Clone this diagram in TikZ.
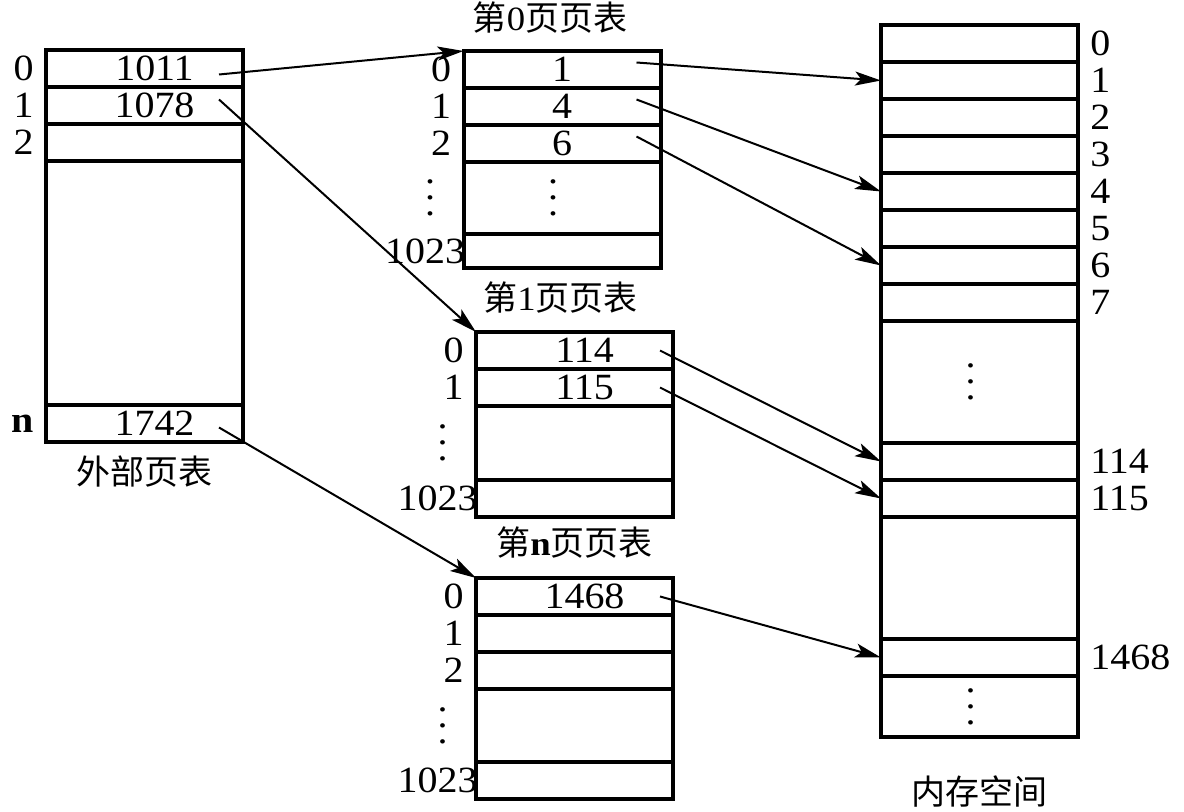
\documentclass[tikz,border=0pt]{standalone}
\usepackage{fontspec}
\setmainfont{Liberation Serif}[FakeStretch=1.08]
\newfontfamily\cjk{Noto Sans CJK SC}
\usetikzlibrary{arrows.meta,positioning}
\newcommand\colvdots{\vbox{\baselineskip=8pt\lineskiplimit=0pt\hbox{.}\hbox{.}\hbox{.}}}

\begin{document}
\begin{tikzpicture}[
    x=0.5pt,y=-0.5pt,node distance=0pt,
    >={Stealth[length=13pt,width=7pt,inset=3pt]},
    every node/.style={font=\fontsize{18.5}{21}\selectfont},
    cell/.style={draw,line width=2pt,minimum width=98.5pt,
        minimum height=18.5pt,inner sep=0pt,outer sep=0pt},
    bigcell/.style={cell,minimum height=#1},
    val/.style={execute at begin node={\hspace*{10pt}}},
    title/.style={font=\cjk\fontsize{17}{20}\selectfont},
    every label/.style={inner sep=0pt},
    label distance=6pt,
    link/.style={->,line width=1pt}
]
 \useasboundingbox (0,0) rectangle (1184,812);

 % outer page table
 \node[cell,val,anchor=north,label=left:0] (o0) at (144.5,50) {1011};
 \node[cell,val,below=of o0,label=left:1] (o1) {1078};
 \node[cell,below=of o1,label=left:2] (o2) {};
 \node[bigcell=122pt,below=of o2] (og) {};
 \node[cell,val,below=of og,label=left:\textbf{n}] (on) {1742};
 \node[title,below=3.5pt of on] (ot) {外部页表};

 % page table 0
 \node[cell,anchor=north,label=left:0] (p0r0) at (562,51) {1};
 \node[cell,below=of p0r0,label=left:1] (p0r1) {4};
 \node[cell,below=of p0r1,label=left:2] (p0r2) {6};
 \node[bigcell=36pt,below=of p0r2,
    label={[label distance=14pt]left:\colvdots}] (p0g) {\colvdots\hspace*{9pt}};
 \node[bigcell=17pt,below=of p0g,label={[label distance=-1pt]left:1023}] (p0r3) {};
 \node[title,above=5.5pt of p0r0,xshift=-6pt] (p0t) {第{\rmfamily 0}页页表};

 % page table 1
 \node[cell,val,anchor=north,label=left:0] (p1r0) at (574.5,332) {114};
 \node[cell,val,below=of p1r0,label=left:1] (p1r1) {115};
 \node[bigcell=37pt,below=of p1r1,
    label={[label distance=14pt]left:\colvdots}] (p1g) {};
 \node[cell,below=of p1g,label={[label distance=-1pt]left:1023}] (p1r2) {};
 \node[title,above=6pt of p1r0,xshift=-7pt] (p1t) {第{\rmfamily 1}页页表};

 % page table n
 \node[cell,val,anchor=north,label=left:0] (pnr0) at (574.5,578) {1468};
 \node[cell,below=of pnr0,label=left:1] (pnr1) {};
 \node[cell,below=of pnr1,label=left:2] (pnr2) {};
 \node[bigcell=36.5pt,below=of pnr2,
    label={[label distance=14pt]left:\colvdots}] (png) {};
 \node[cell,below=of png,label={[label distance=-1pt]left:1023}] (pnr3) {};
 \node[title,above=6.5pt of pnr0] (pnt) {第{\rmfamily\bfseries n}页页表};

 % memory
 \node[cell,anchor=north,label=right:0] (m0) at (979.5,25) {};
 \foreach \i [remember=\i as \j (initially 0)] in {1,...,7}
    \node[cell,below=of m\j,label=right:\i] (m\i) {};
 \node[bigcell=61pt,below=of m7] (mg1) {\colvdots\hspace*{9pt}};
 \node[cell,below=of mg1,label=right:114] (m114) {};
 \node[cell,below=of m114,label=right:115] (m115) {};
 \node[bigcell=61pt,below=of m115] (mg2) {};
 \node[cell,below=of mg2,label=right:1468] (m1468) {};
 \node[bigcell=30.5pt,below=of m1468] (mg3) {\colvdots\hspace*{9pt}};
 \node[title,below=16pt of mg3] (mt) {内存空间};

 % links
 \draw[link] ([xshift=-12pt,yshift=-3pt]o0.east) -- (p0r0.north west);
 \draw[link] ([xshift=-12pt,yshift=3pt]o1.east) -- (p1r0.north west);
 \draw[link] ([xshift=-12pt,yshift=-2pt]on.east) -- (pnr0.north west);
 \draw[link] ([xshift=-12pt,yshift=3.5pt]p0r0.east) -- (m1.west);
 \draw[link] ([xshift=-12pt,yshift=3.5pt]p0r1.east) -- (m4.west);
 \draw[link] ([xshift=-12pt,yshift=3.5pt]p0r2.east) -- (m6.west);
 \draw[link] ([xshift=-6.5pt]p1r0.east) -- (m114.west);
 \draw[link] ([xshift=-6.5pt]p1r1.east) -- (m115.west);
 \draw[link] ([xshift=-6.5pt]pnr0.east) -- (m1468.west);
\end{tikzpicture}
\end{document}
